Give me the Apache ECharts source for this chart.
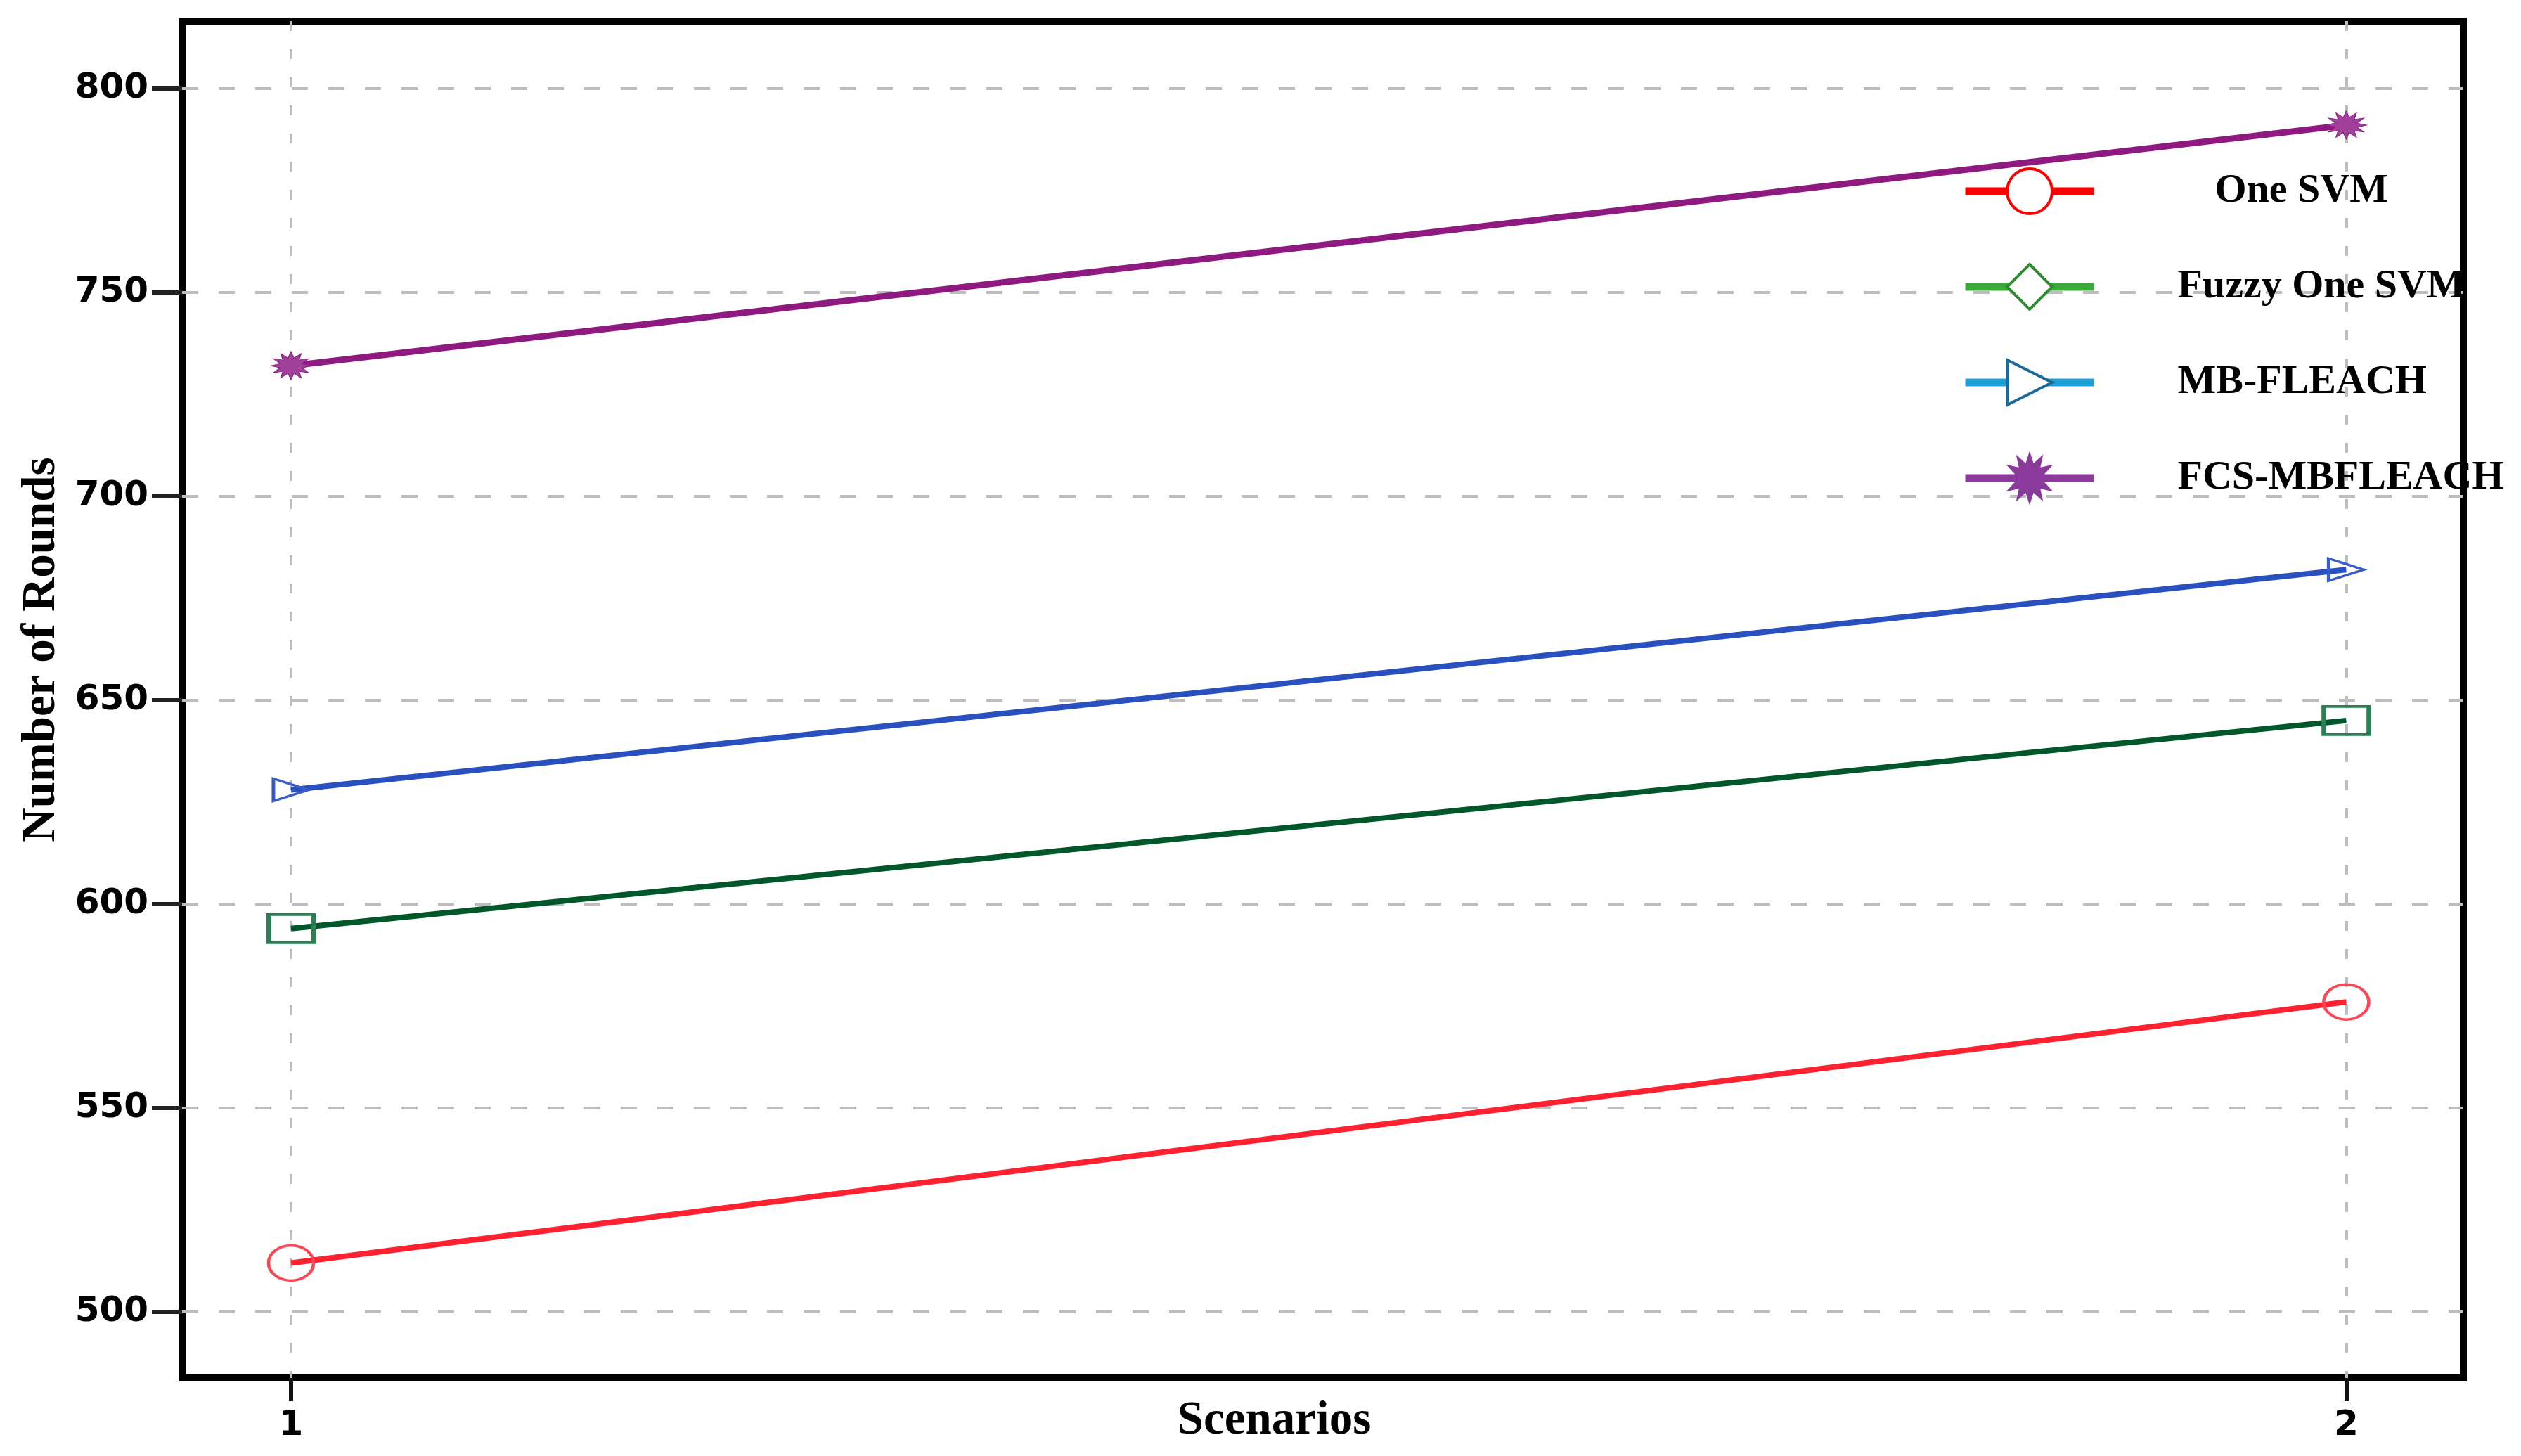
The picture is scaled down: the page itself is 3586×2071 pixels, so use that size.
<!DOCTYPE html>
<html>
<head>
<meta charset="utf-8">
<script src="https://cdn.jsdelivr.net/npm/echarts@6/dist/echarts.min.js"></script>
<style>
  html, body { margin: 0; padding: 0; background: #fff; }
  #chart { width: 3586px; height: 2071px; }
</style>
</head>
<body>
<div id="chart"></div>
<script>
//--------------------------------
// Data
//--------------------------------
const scenarios = [1, 2];
const oneSvm = [512, 576];
const fuzzyOneSvm = [594, 645];
const mbFleach = [628, 682];
const fcsMbfleach = [732, 791];

const yTicks = [500, 550, 600, 650, 700, 750, 800];
const xTicks = [1, 2];

const legendNames = ['One SVM', 'Fuzzy One SVM', 'MB-FLEACH', 'FCS-MBFLEACH'];

//--------------------------------
// Helpers
//--------------------------------
const toPoints = (vals) => scenarios.map((s, i) => [s, vals[i]]);

// 12 point burst used for the FCS-MBFLEACH marker
const starPath = 'path://M50,0L57.2,22.9L75,6.7L69.8,30.2L93.3,25L77,42.8L100,50L77,57.2L93.3,75L69.8,69.8L75,93.3L57.2,77L50,100L42.8,77L25,93.3L30.2,69.8L6.7,75L23,57.2L0,50L23,42.8L6.7,25L30.2,30.2L25,6.7L42.8,23Z';

const serif = '"Liberation Serif", "Times New Roman", serif';
const sans = '"DejaVu Sans", sans-serif';
const gridGray = '#bdbdbd';

var myChart = echarts.init(document.getElementById('chart'));

let options = {
    backgroundColor: '#fff',
    animation: false,
    grid: {
        left: 259,
        right: 82,
        top: 30,
        bottom: 111,
        outerBoundsMode: 'none',
        containLabel: false,
        show: true,
        borderColor: '#000',
        borderWidth: 10,
        backgroundColor: 'transparent'
    },
    legend: {
        orient: 'vertical',
        left: 2785,
        top: 233,
        itemWidth: 183,
        itemHeight: 80,
        itemGap: 68,
        selectedMode: false,
        textStyle: {
            fontFamily: serif,
            fontWeight: 'bold',
            fontSize: 58,
            color: '#000',
            padding: [0, 0, 0, 114]
        },
        lineStyle: { width: 11 },
        itemStyle: { borderWidth: 4 },
        data: [
            { name: legendNames[0], textStyle: { padding: [0, 0, 0, 167] } },
            { name: legendNames[1] },
            { name: legendNames[2] },
            { name: legendNames[3] }
        ]
    },
    xAxis: {
        type: 'value',
        min: 0.947,
        max: 2.057,
        name: 'Scenarios',
        nameLocation: 'middle',
        nameGap: 28,
        nameMoveOverlap: false,
        nameTextStyle: {
            fontFamily: serif,
            fontWeight: 'bold',
            fontSize: 67,
            color: '#000',
            padding: [0, 138, 0, 0]
        },
        axisLine: { show: false },
        axisTick: {
            show: true,
            inside: false,
            length: 33,
            customValues: xTicks,
            lineStyle: { color: '#111', width: 6 }
        },
        axisLabel: {
            customValues: xTicks,
            margin: 43,
            fontFamily: sans,
            fontWeight: 'bold',
            fontSize: 50,
            color: '#000'
        },
        splitLine: {
            show: true,
            lineStyle: { color: gridGray, width: 4, type: [14, 26] }
        }
    },
    yAxis: {
        type: 'value',
        min: 483.8,
        max: 816.5,
        name: 'Number of Rounds',
        nameLocation: 'middle',
        nameGap: 166,
        nameTextStyle: {
            fontFamily: serif,
            fontWeight: 'bold',
            fontSize: 67,
            color: '#000',
            padding: [0, 0, 0, 142]
        },
        axisLine: { show: false },
        axisTick: {
            show: true,
            inside: false,
            length: 43,
            customValues: yTicks,
            lineStyle: { color: '#222', width: 6 }
        },
        axisLabel: {
            customValues: yTicks,
            margin: 48,
            fontFamily: sans,
            fontWeight: 'bold',
            fontSize: 50,
            color: '#000'
        },
        splitLine: {
            show: true,
            lineStyle: { color: gridGray, width: 4, type: [23, 29] }
        }
    },
    series: [
        // plotted lines
        {
            name: 'One SVM line',
            type: 'line',
            data: toPoints(oneSvm),
            symbol: 'circle',
            symbolSize: [64, 50],
            lineStyle: { color: '#ff2030', width: 8 },
            itemStyle: { color: 'transparent', borderColor: '#ff4555', borderWidth: 4 }
        },
        {
            name: 'Fuzzy One SVM line',
            type: 'line',
            data: toPoints(fuzzyOneSvm),
            symbol: 'rect',
            symbolSize: [64, 40],
            lineStyle: { color: '#00582a', width: 8 },
            itemStyle: { color: 'transparent', borderColor: '#2a8055', borderWidth: 5 }
        },
        {
            name: 'MB-FLEACH line',
            type: 'line',
            data: toPoints(mbFleach),
            symbol: 'triangle',
            symbolRotate: -90,
            symbolSize: [32, 50],
            lineStyle: { color: '#2a50c0', width: 8 },
            itemStyle: { color: 'transparent', borderColor: '#3a5cc8', borderWidth: 4 }
        },
        {
            name: 'FCS-MBFLEACH line',
            type: 'line',
            data: toPoints(fcsMbfleach),
            symbol: starPath,
            symbolSize: [58, 40],
            lineStyle: { color: '#8e1a80', width: 9 },
            itemStyle: { color: '#a0409a', borderColor: '#8e1a80', borderWidth: 1 }
        },
        // legend-only entries (legend icons differ from plotted markers)
        {
            name: legendNames[0],
            type: 'line',
            data: [],
            symbol: 'circle',
            lineStyle: { color: '#ff0000', width: 11 },
            itemStyle: { color: '#fff', borderColor: '#ff0000', borderWidth: 4 }
        },
        {
            name: legendNames[1],
            type: 'line',
            data: [],
            symbol: 'diamond',
            lineStyle: { color: '#3aaa3a', width: 11 },
            itemStyle: { color: '#fff', borderColor: '#2e8a2e', borderWidth: 4 }
        },
        {
            name: legendNames[2],
            type: 'line',
            data: [],
            symbol: 'triangle',
            symbolRotate: -90,
            lineStyle: { color: '#1e9fd8', width: 11 },
            itemStyle: { color: '#fff', borderColor: '#1a6a9a', borderWidth: 4 }
        },
        {
            name: legendNames[3],
            type: 'line',
            data: [],
            symbol: starPath,
            lineStyle: { color: '#8e3a9e', width: 11 },
            itemStyle: { color: '#8a3a9a', borderColor: '#8a3a9a', borderWidth: 1 }
        }
    ]
};

myChart.setOption(options);
</script>
</body>
</html>
